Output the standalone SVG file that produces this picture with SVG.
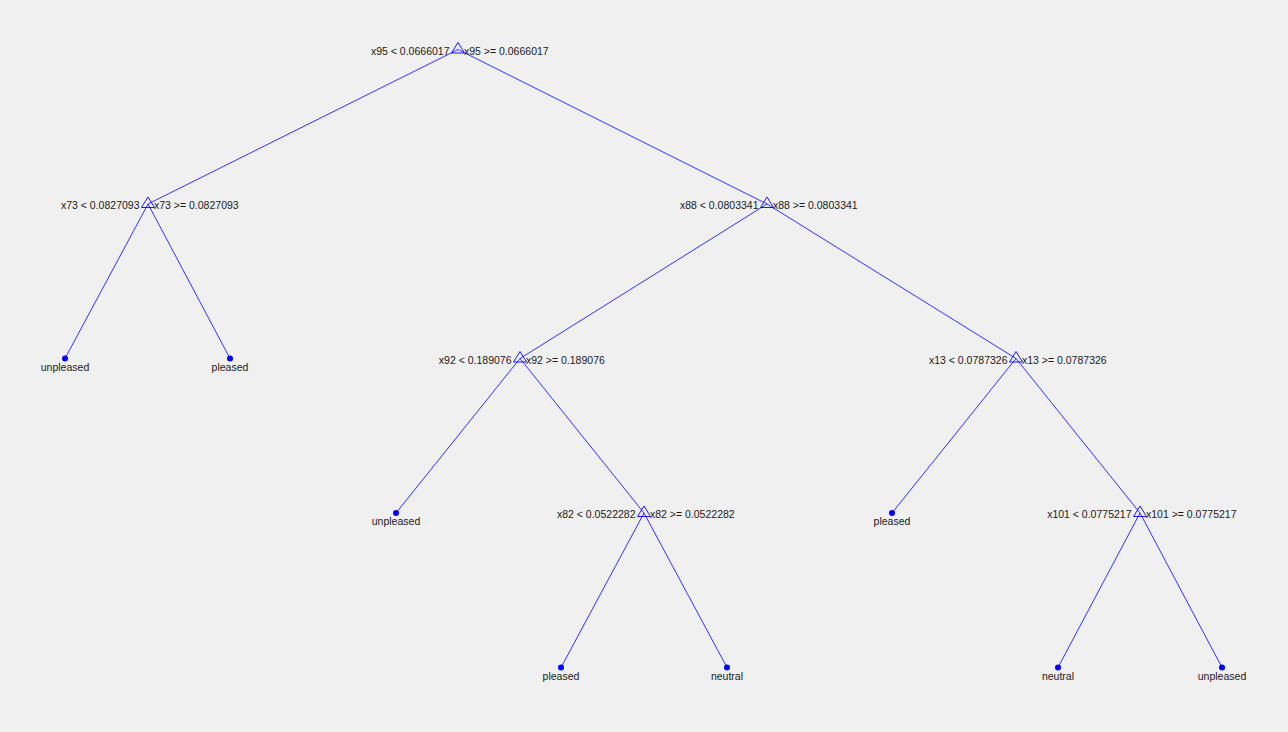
<svg xmlns="http://www.w3.org/2000/svg" width="1288" height="732" viewBox="0 0 1288 732">
<style>
.e{stroke:#0000ff;stroke-width:0.8;fill:none}
.t{fill:none;stroke:#0000ff;stroke-width:0.9}
.d{fill:#0000ff}
text{font-family:"Liberation Sans",Arial,sans-serif;font-size:10.5px;fill:#1a1a1a}
.l{text-anchor:end}
.c{text-anchor:middle}
</style>
<defs>
<path id="tri" d="M0,-7 L-6.5,3.5 L6.5,3.5 Z"/>
</defs>
<rect width="1288" height="732" fill="#f0f0f0"/>
<g id="connectors">
<line class="e" x1="458" y1="49.5" x2="148" y2="204"/>
<line class="e" x1="458" y1="49.5" x2="767" y2="204"/>
<line class="e" x1="148" y1="204" x2="65" y2="358.5"/>
<line class="e" x1="148" y1="204" x2="230" y2="358.5"/>
<line class="e" x1="767" y1="204" x2="520" y2="358.5"/>
<line class="e" x1="767" y1="204" x2="1016" y2="358.5"/>
<line class="e" x1="520" y1="358.5" x2="396" y2="513"/>
<line class="e" x1="520" y1="358.5" x2="644" y2="513"/>
<line class="e" x1="1016" y1="358.5" x2="892" y2="513"/>
<line class="e" x1="1016" y1="358.5" x2="1140" y2="513"/>
<line class="e" x1="644" y1="513" x2="561" y2="667.5"/>
<line class="e" x1="644" y1="513" x2="727" y2="667.5"/>
<line class="e" x1="1140" y1="513" x2="1058" y2="667.5"/>
<line class="e" x1="1140" y1="513" x2="1222" y2="667.5"/>
</g>
<g id="n1"><use href="#tri" class="t" x="458" y="49.5"/><text class="l" x="449.5" y="54.5">x95 &lt; 0.0666017</text><text x="464" y="54.5">x95 &gt;= 0.0666017</text></g>
<g id="n2"><use href="#tri" class="t" x="148" y="204"/><text class="l" x="139.5" y="209">x73 &lt; 0.0827093</text><text x="154" y="209">x73 &gt;= 0.0827093</text></g>
<g id="n3"><use href="#tri" class="t" x="767" y="204"/><text class="l" x="758.5" y="209">x88 &lt; 0.0803341</text><text x="773" y="209">x88 &gt;= 0.0803341</text></g>
<g id="n4"><circle class="d" cx="65" cy="358.5" r="3"/><text class="c" x="65" y="370.5">unpleased</text></g>
<g id="n5"><circle class="d" cx="230" cy="358.5" r="3"/><text class="c" x="230" y="370.5">pleased</text></g>
<g id="n6"><use href="#tri" class="t" x="520" y="358.5"/><text class="l" x="511.5" y="363.5">x92 &lt; 0.189076</text><text x="526" y="363.5">x92 &gt;= 0.189076</text></g>
<g id="n7"><use href="#tri" class="t" x="1016" y="358.5"/><text class="l" x="1007.5" y="363.5">x13 &lt; 0.0787326</text><text x="1022" y="363.5">x13 &gt;= 0.0787326</text></g>
<g id="n8"><circle class="d" cx="396" cy="513" r="3"/><text class="c" x="396" y="525">unpleased</text></g>
<g id="n9"><use href="#tri" class="t" x="644" y="513"/><text class="l" x="635.5" y="518">x82 &lt; 0.0522282</text><text x="650" y="518">x82 &gt;= 0.0522282</text></g>
<g id="n10"><circle class="d" cx="892" cy="513" r="3"/><text class="c" x="892" y="525">pleased</text></g>
<g id="n11"><use href="#tri" class="t" x="1140" y="513"/><text class="l" x="1131.5" y="518">x101 &lt; 0.0775217</text><text x="1146" y="518">x101 &gt;= 0.0775217</text></g>
<g id="n12"><circle class="d" cx="561" cy="667.5" r="3"/><text class="c" x="561" y="679.5">pleased</text></g>
<g id="n13"><circle class="d" cx="727" cy="667.5" r="3"/><text class="c" x="727" y="679.5">neutral</text></g>
<g id="n14"><circle class="d" cx="1058" cy="667.5" r="3"/><text class="c" x="1058" y="679.5">neutral</text></g>
<g id="n15"><circle class="d" cx="1222" cy="667.5" r="3"/><text class="c" x="1222" y="679.5">unpleased</text></g>
</svg>
